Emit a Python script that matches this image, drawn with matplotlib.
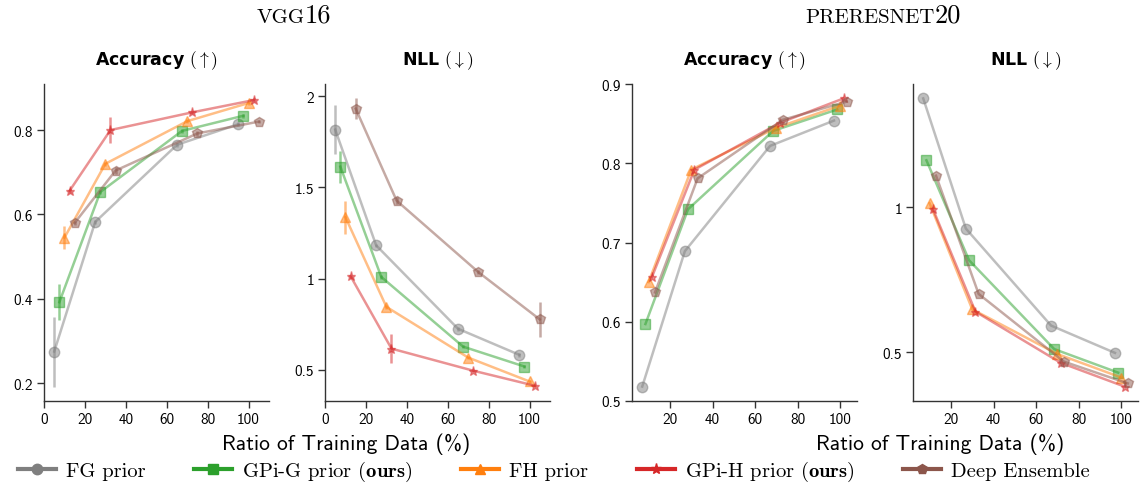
import matplotlib
matplotlib.use("Agg")
import matplotlib.pyplot as plt
from matplotlib.ticker import MultipleLocator, FormatStrFormatter
from matplotlib.offsetbox import TextArea, HPacker, AnchoredOffsetbox
from matplotlib.lines import Line2D

plt.rcParams['mathtext.fontset'] = 'cm'
plt.rcParams['axes.formatter.use_mathtext'] = True

# ---------------- data ----------------
ratios = [10, 30, 70, 100]
methods = ["FG prior", "GPi-G prior", "FH prior", "GPi-H prior", "Deep Ensemble"]
legend_labels = ["FG prior", r"GPi-G prior $(\mathbf{ours})$", "FH prior",
                 r"GPi-H prior $(\mathbf{ours})$", "Deep Ensemble"]
colors = ["tab:gray", "tab:green", "tab:orange", "tab:red", "tab:brown"]
markers = ["o", "s", "^", "*", "p"]
offsets_vgg = [-5, -2.5, 0, 2.5, 5]
offsets_pre = [-3, -1.5, 0, 1.5, 3]

# VGG16 accuracy
vgg_acc_fg = [0.275, 0.582, 0.765, 0.814]
vgg_acc_gpig = [0.392, 0.653, 0.798, 0.834]
vgg_acc_fh = [0.545, 0.720, 0.821, 0.864]
vgg_acc_gpih = [0.656, 0.800, 0.842, 0.871]
vgg_acc_de = [0.580, 0.704, 0.792, 0.820]
vgg_acc_err_fg = [0.083, 0.005, 0.005, 0.005]
vgg_acc_err_gpig = [0.042, 0.005, 0.005, 0.005]
vgg_acc_err_fh = [0.028, 0.005, 0.005, 0.005]
vgg_acc_err_gpih = [0.004, 0.030, 0.004, 0.004]
vgg_acc_err_de = [0.005, 0.008, 0.005, 0.004]

# VGG16 NLL
vgg_nll_fg = [1.816, 1.182, 0.725, 0.582]
vgg_nll_gpig = [1.613, 1.009, 0.627, 0.518]
vgg_nll_fh = [1.336, 0.845, 0.567, 0.436]
vgg_nll_gpih = [1.013, 0.616, 0.495, 0.413]
vgg_nll_de = [1.931, 1.427, 1.035, 0.776]
vgg_nll_err_fg = [0.133, 0.010, 0.010, 0.010]
vgg_nll_err_gpig = [0.088, 0.010, 0.010, 0.008]
vgg_nll_err_fh = [0.090, 0.010, 0.008, 0.008]
vgg_nll_err_gpih = [0.008, 0.078, 0.006, 0.005]
vgg_nll_err_de = [0.056, 0.020, 0.010, 0.095]

# PreResNet20 accuracy
pre_acc_fg = [0.518, 0.689, 0.822, 0.854]
pre_acc_gpig = [0.597, 0.742, 0.841, 0.868]
pre_acc_fh = [0.650, 0.792, 0.845, 0.873]
pre_acc_gpih = [0.656, 0.792, 0.851, 0.882]
pre_acc_de = [0.637, 0.781, 0.855, 0.878]

# PreResNet20 NLL
pre_nll_fg = [1.374, 0.926, 0.592, 0.498]
pre_nll_gpig = [1.161, 0.817, 0.511, 0.430]
pre_nll_fh = [1.013, 0.648, 0.494, 0.413]
pre_nll_gpih = [0.994, 0.640, 0.464, 0.382]
pre_nll_de = [1.108, 0.701, 0.468, 0.393]

zero_err = [0.0, 0.0, 0.0, 0.0]

panels = [
    dict(title=r"Accuracy $(\uparrow)$", offsets=offsets_vgg,
         ys=[vgg_acc_fg, vgg_acc_gpig, vgg_acc_fh, vgg_acc_gpih, vgg_acc_de],
         errs=[vgg_acc_err_fg, vgg_acc_err_gpig, vgg_acc_err_fh, vgg_acc_err_gpih, vgg_acc_err_de],
         ymajor=0.2, fmt="%.1f"),
    dict(title=r"NLL $(\downarrow)$", offsets=offsets_vgg,
         ys=[vgg_nll_fg, vgg_nll_gpig, vgg_nll_fh, vgg_nll_gpih, vgg_nll_de],
         errs=[vgg_nll_err_fg, vgg_nll_err_gpig, vgg_nll_err_fh, vgg_nll_err_gpih, vgg_nll_err_de],
         ymajor=0.5, fmt="%g"),
    dict(title=r"Accuracy $(\uparrow)$", offsets=offsets_pre,
         ys=[pre_acc_fg, pre_acc_gpig, pre_acc_fh, pre_acc_gpih, pre_acc_de],
         errs=[zero_err] * 5, ymajor=0.1, fmt="%.1f"),
    dict(title=r"NLL $(\downarrow)$", offsets=offsets_pre,
         ys=[pre_nll_fg, pre_nll_gpig, pre_nll_fh, pre_nll_gpih, pre_nll_de],
         errs=[zero_err] * 5, ymajor=0.5, fmt="%g"),
]

W, H = 1140, 485
fig = plt.figure(figsize=(W / 100, H / 100), dpi=100)
lefts = [44, 325, 632, 913]
ax_w, ax_top, ax_bot = 225, 85, 402

for p, left in zip(panels, lefts):
    ax = fig.add_axes([left / W, 1 - ax_bot / H, ax_w / W, (ax_bot - ax_top) / H])
    for i in range(5):
        xs = [r + p["offsets"][i] for r in ratios]
        ms = 6.5 if markers[i] == "*" else 7.5
        ax.errorbar(xs, p["ys"][i], yerr=p["errs"][i], fmt=markers[i] + "-",
                    color=colors[i], alpha=0.5, ms=ms, lw=1.8, elinewidth=1.8,
                    mec=colors[i], capsize=0)
    ax.set_title(p["title"], fontweight="bold", fontsize=12.5, pad=14)
    ax.spines["top"].set_visible(False)
    ax.spines["right"].set_visible(False)
    for s in ("left", "bottom"):
        ax.spines[s].set_color("#333333")
        ax.spines[s].set_linewidth(1.0)
    ax.xaxis.set_major_locator(MultipleLocator(20))
    ax.yaxis.set_major_locator(MultipleLocator(p["ymajor"]))
    ax.yaxis.set_major_formatter(FormatStrFormatter(p["fmt"]))
    ax.xaxis.set_major_formatter(FormatStrFormatter("%d"))
    ax.tick_params(direction="out", length=5, width=1, color="#333333", pad=3)
    for lab in ax.get_xticklabels() + ax.get_yticklabels():
        lab.set_fontfamily("cmss10")
        lab.set_fontsize(11)

# x labels
for xc in (346, 940):
    fig.text(xc / W, 1 - 444 / H, "Ratio of Training Data (%)", ha="center", va="center",
             fontfamily="cmss10", fontsize=15.5)

# group titles in small caps
def smallcaps(xc, yc, caps, digits):
    ta1 = TextArea(caps, textprops=dict(fontfamily="cmr10", fontsize=15))
    ta2 = TextArea(digits, textprops=dict(fontfamily="cmr10", fontsize=19))
    box = HPacker(children=[ta1, ta2], align="baseline", pad=0, sep=0)
    ab = AnchoredOffsetbox(loc="center", child=box, bbox_to_anchor=(xc / W, 1 - yc / H),
                           bbox_transform=fig.transFigure, frameon=False, pad=0, borderpad=0)
    fig.add_artist(ab)

smallcaps(294, 16, "VGG", "16")
smallcaps(883, 16, "PRERESNET", "20")

handles = [Line2D([], [], color=c, marker=m, lw=3, ms=(8 if m == "*" else 7.5))
           for c, m in zip(colors, markers)]
fig.legend(handles, legend_labels, loc="center", bbox_to_anchor=(0.486, 1 - 472 / H),
           ncol=5, frameon=False, prop=dict(family="cmr10", size=14.8),
           handlelength=1.85, handletextpad=0.5, columnspacing=2.35, borderpad=0)

fig.savefig("out.png", dpi=100)
